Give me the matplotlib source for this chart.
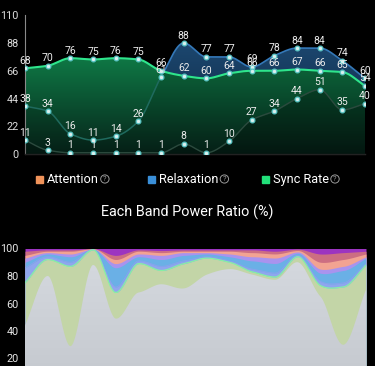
import numpy as np
import matplotlib
matplotlib.use("Agg")
import matplotlib.pyplot as plt
from matplotlib.patches import Rectangle, Circle
from matplotlib.colors import to_rgba

plt.rcParams['font.family'] = ['Roboto', 'DejaVu Sans']

# ---------------- data ----------------
attention = [11, 3, 1, 1, 1, 1, 1, 8, 1, 10, 27, 34, 44, 51, 35, 40]
relaxation = [38, 34, 16, 11, 14, 26, 61, 88, 77, 77, 69, 78, 84, 84, 74, 60]
sync_rate = [68, 70, 76, 75, 76, 75, 66, 62, 60, 64, 66, 66, 67, 66, 65, 54]
top_yticks = [0, 22, 44, 66, 88, 110]
legend_labels = ["Attention", "Relaxation", "Sync Rate"]

band_delta = [44, 80, 29, 88, 49, 68, 74, 71, 81, 85, 81, 78, 90, 65, 30, 70]
band_theta = [31, 12, 58, 11, 19, 21, 10, 18, 12, 5, 2, 2, 4, 8, 42, 18]
band_low_alpha = [11, 2, 3, 0.2, 4, 2, 3, 2, 1, 1, 2, 3, 1, 3, 3, 1]
band_high_alpha = [4, 2, 4, 0.2, 14, 3, 5, 4, 2, 3, 6, 7, 1.5, 6, 9, 4]
band_low_beta = [3, 1, 2, 0.2, 3, 2, 3, 2, 1, 2, 3, 4, 1, 3, 3, 1]
band_high_beta = [2, 1, 2, 0.2, 3, 2, 2, 1, 1, 2, 3, 3, 1, 5, 5, 2]
band_low_gamma = [3, 1, 1, 0.1, 3, 1, 1.5, 1, 1, 1, 2, 2, 1, 6, 5, 2]
band_mid_gamma = [2, 1, 1, 0.1, 5, 1, 1.5, 1, 1, 1, 1, 2, 0.5, 4, 3, 2]
bottom_yticks = [20, 40, 60, 80, 100]
title_text = "Each Band Power Ratio (%)"


def smooth(y, n=800):
    y = np.asarray(y, float)
    x = np.arange(len(y), dtype=float)
    h = np.diff(x)
    d = np.diff(y) / h
    m = np.zeros_like(y)
    m[0], m[-1] = d[0], d[-1]
    for k in range(1, len(y) - 1):
        if d[k - 1] * d[k] <= 0:
            m[k] = 0
        else:
            h0, h1 = h[k - 1], h[k]
            m[k] = 3 * (h0 + h1) / ((2 * h1 + h0) / d[k - 1] + (h1 + 2 * h0) / d[k])
    xs = np.linspace(0, len(y) - 1, n)
    idx = np.clip(np.floor(xs).astype(int), 0, len(y) - 2)
    t = xs - idx
    hh = h[idx]
    h00 = 2 * t**3 - 3 * t**2 + 1
    h10 = t**3 - 2 * t**2 + t
    h01 = -2 * t**3 + 3 * t**2
    h11 = t**3 - t**2
    ys = h00 * y[idx] + h10 * hh * m[idx] + h01 * y[idx + 1] + h11 * hh * m[idx + 1]
    return xs, ys


def gradient_fill(ax, xs, y1, y0, c_top, c_bot, ymin, ymax, zorder, a_top=1.0, a_bot=1.0):
    poly = ax.fill_between(xs, y0, y1, color="none", lw=0)
    path = poly.get_paths()[0]
    ct = np.array(to_rgba(c_top)); ct[3] = a_top
    cb = np.array(to_rgba(c_bot)); cb[3] = a_bot
    t = np.linspace(0, 1, 256)[:, None]
    img = (ct * (1 - t) + cb * t)[:, None, :]
    im = ax.imshow(img, extent=[xs[0], xs[-1], ymin, ymax], aspect="auto",
                   origin="upper", zorder=zorder, interpolation="bilinear")
    im.set_clip_path(path, transform=ax.transData)
    return im


W, H = 375, 366
fig = plt.figure(figsize=(W / 100, H / 100), dpi=100, facecolor="black")

# ---------------- top chart ----------------
ax = fig.add_axes([25 / W, (H - 154) / H, 340 / W, (154 - 15.3) / H])
ax.set_facecolor("black")
n = len(sync_rate)
xi = np.arange(n)
xs, ys_sync = smooth(sync_rate)
_, ys_rel = smooth(relaxation)
_, ys_att = smooth(attention)

gradient_fill(ax, xs, ys_rel, np.zeros_like(xs), "#1d4a74", "#0c2238", 0, 95, 1)
gradient_fill(ax, xs, ys_sync, np.zeros_like(xs), "#0f7c47", "#06241a", 0, 80, 2)
ax.fill_between(xs, 0, np.minimum(ys_rel, ys_sync), color="black", alpha=0.12, lw=0, zorder=3)
ax.fill_between(xs, 0, np.minimum(ys_att, ys_sync), color="black", alpha=0.25, lw=0, zorder=3)

ax.plot(xs, ys_att, color="#2c4a3e", lw=1.0, zorder=4)
ax.plot(xs, np.where(ys_rel > ys_sync, np.nan, ys_rel), color="#1f6a5e", lw=1.1, zorder=4)
ax.plot(xs, np.where(ys_rel > ys_sync + 0.3, ys_rel, np.nan), color="#3478b8", lw=1.2, zorder=4)
ax.plot(xs, ys_sync, color="#2ee58c", lw=1.5, zorder=5)

for series in (attention, relaxation, sync_rate):
    ax.plot(xi, series, "o", ms=3.4, mfc="#d8f0ee", mec="#58c4c4", mew=0.9, zorder=6, ls="none")
    for x, v in zip(xi, series):
        ax.text(x, v + 2.0, str(v), color="#ececec", fontsize=7.5, ha="center", va="bottom", zorder=7)

ax.set_xlim(0, n - 1)
ax.set_ylim(0, 110)
ax.set_yticks(top_yticks)
ax.set_yticklabels([str(t) for t in top_yticks], color="#dcdcdc", fontsize=7.8)
ax.tick_params(axis="y", length=0, pad=4.5)
ax.set_xticks([])
for s in ("top", "right"):
    ax.spines[s].set_visible(False)
ax.spines["left"].set_color("#8a8a8a")
ax.spines["left"].set_linewidth(0.8)
ax.spines["bottom"].set_color("#2a2a2a")
ax.spines["bottom"].set_linewidth(1.0)

# ---------------- legend ----------------
leg_colors = ["#f0935a", "#3a8fd8", "#22e07a"]
leg_x = [36, 148, 262]
for lx, lab, col in zip(leg_x, legend_labels, leg_colors):
    fig.patches.append(Rectangle((lx / W, (H - 183) / H), 7 / W, 7 / H, color=col,
                                 transform=fig.transFigure))
    t = fig.text((lx + 11) / W, (H - 179.5) / H, lab, color="#ffffff", fontsize=9.2,
                 va="center", ha="left")
    fig.canvas.draw()
    bb = t.get_window_extent()
    cx = bb.x1 + 6
    fig.patches.append(Circle((cx / W, (H - 179) / H), 4.2 / W, fill=False,
                              ec="#9a9a9a", lw=0.7, transform=fig.transFigure))
    fig.text(cx / W, (H - 179) / H, "?", color="#9a9a9a", fontsize=5.5, ha="center", va="center")

fig.text(187.5 / W, (H - 212) / H, title_text, color="#ffffff", fontsize=10.4,
         ha="center", va="center")

# ---------------- bottom chart ----------------
ax2 = fig.add_axes([25 / W, (H - 386) / H, 341 / W, 137.5 / H])
ax2.set_facecolor("black")
layers = [band_delta, band_theta, band_low_alpha, band_high_alpha, band_low_beta,
          band_high_beta, band_low_gamma, band_mid_gamma]
colors = ["#cfd3d9", "#c3d5a7", "#8fa6ee", "#6ab0e6", "#a993ee", "#f2a392", "#cc6e82", "#9c34c0"]
sm = []
for L in layers:
    xs2, v = smooth(L)
    sm.append(np.clip(v, 0, None))
sm = np.array(sm)
tot = sm.sum(axis=0)
sm = sm / tot * 100
cum = np.cumsum(sm, axis=0)
zero = np.zeros_like(xs2)
for k in range(len(layers) - 1, 0, -1):
    ax2.fill_between(xs2, zero, cum[k], color=colors[k], lw=0, zorder=1 + (len(layers) - k))
ax2.plot(xs2, cum[1], color="#86f0a4", lw=0.9, zorder=20)
ax2.plot(xs2, cum[2], color="#8aa2ee", lw=0.6, zorder=19)
gradient_fill(ax2, xs2, cum[0], zero, "#d6dae0", "#c4c8ce", 0, 100, 21)
ax2.set_xlim(0, len(band_delta) - 1)
ax2.set_ylim(0, 100)
ax2.set_yticks(bottom_yticks)
ax2.set_yticklabels([str(t) for t in bottom_yticks], color="#e6e6e6", fontsize=7.8)
ax2.tick_params(axis="y", length=0, pad=4.5)
ax2.set_xticks([])
for s in ax2.spines.values():
    s.set_visible(False)

fig.savefig("out.png", dpi=100, facecolor="black")
